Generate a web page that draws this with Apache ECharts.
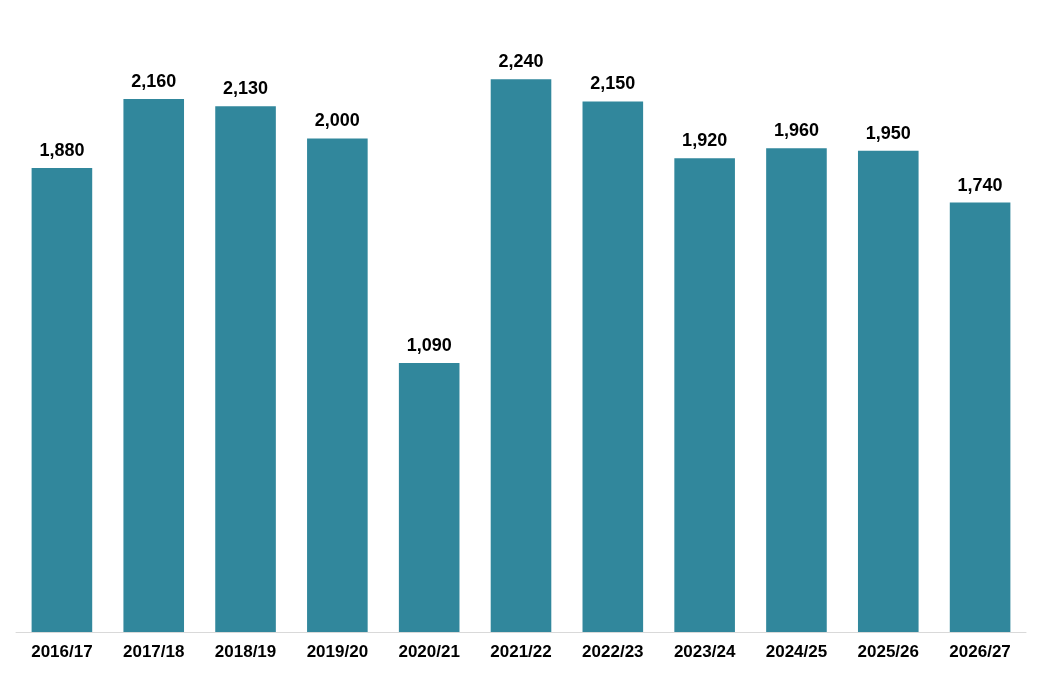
<!DOCTYPE html>
<html><head><meta charset="utf-8">
<script src="https://cdn.jsdelivr.net/npm/echarts@6/dist/echarts.min.js"></script>
<style>html,body{margin:0;padding:0;background:#fff}#c{width:1042px;height:681px}</style>
</head><body><div id="c"></div>
<script>
const categories = ['2016/17','2017/18','2018/19','2019/20','2020/21','2021/22','2022/23','2023/24','2024/25','2025/26','2026/27'];
const values = [1880,2160,2130,2000,1090,2240,2150,1920,1960,1950,1740];
const chart = echarts.init(document.getElementById('c'));
chart.setOption({
  animation:false,
  grid:{left:16,right:16,top:15,bottom:49},
  xAxis:{type:'category',data:categories,
    axisLine:{lineStyle:{color:'#d9d9d9'}},axisTick:{show:false},
    axisLabel:{color:'#000',fontWeight:'bold',fontSize:17,fontFamily:'Liberation Sans, Arial',margin:12}},
  yAxis:{type:'value',min:0,max:2500,show:false,splitLine:{show:false}},
  series:[{type:'bar',data:values,barCategoryGap:'34%',
    itemStyle:{color:'#31879c'},
    label:{show:true,position:'top',distance:8,color:'#000',fontWeight:'bold',fontSize:18,fontFamily:'Liberation Sans, Arial',
      formatter:p=>p.value.toLocaleString('en-US')}}]
});
</script></body></html>
